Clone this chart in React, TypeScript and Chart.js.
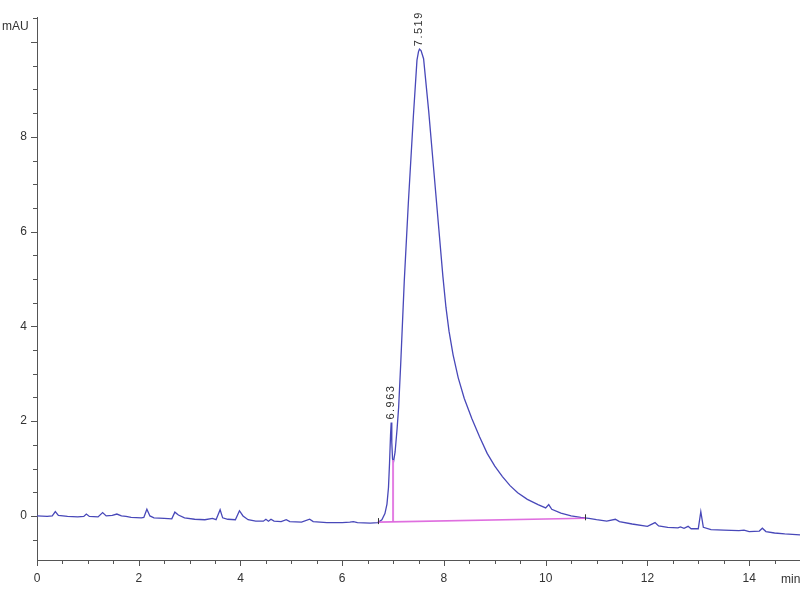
import React, { useEffect, useRef } from "react";
import { Chart, registerables } from "chart.js";

Chart.register(...registerables);

// Retention time (min) and signal (mAU)
const times = [
  0.0, 0.2, 0.3, 0.36, 0.42, 0.6, 0.8, 0.92, 0.97, 1.03, 1.2, 1.29, 1.36, 1.48, 1.57, 1.66, 1.75, 1.85,
  2.05, 2.1, 2.16, 2.22, 2.3, 2.5, 2.65, 2.71, 2.78, 2.9, 3.1, 3.3, 3.45, 3.52, 3.6, 3.65, 3.75, 3.9,
  3.98, 4.05, 4.15, 4.3, 4.45, 4.5, 4.55, 4.6, 4.66, 4.8, 4.9, 4.97, 5.2, 5.36, 5.43, 5.7, 6.0, 6.15,
  6.22, 6.3, 6.55, 6.7, 6.78, 6.84, 6.88, 6.91, 6.93, 6.95, 6.963, 6.975, 6.99, 7.01, 7.04, 7.08, 7.11,
  7.15, 7.22, 7.3, 7.4, 7.47, 7.5, 7.519, 7.55, 7.6, 7.7, 7.8, 7.9, 7.98, 8.04, 8.1, 8.18, 8.28, 8.4,
  8.55, 8.7, 8.85, 9.0, 9.15, 9.3, 9.45, 9.64, 9.85, 10.0, 10.06, 10.12, 10.3, 10.5, 10.69, 10.85,
  11.0, 11.2, 11.37, 11.45, 11.7, 12.0, 12.15, 12.22, 12.4, 12.6, 12.65, 12.72, 12.8, 12.86, 13.0,
  13.05, 13.1, 13.25, 13.5, 13.8, 13.9, 14.0, 14.2, 14.26, 14.33, 14.5, 14.7, 15.0,
];
const signal = [
  0.0, -0.01, 0.0, 0.09, 0.01, -0.01, -0.02, -0.01, 0.04, -0.01, -0.02, 0.07, 0.0, 0.01, 0.04, 0.0, -0.01, -0.03,
  -0.04, -0.03, 0.14, 0.0, -0.04, -0.05, -0.06, 0.08, 0.02, -0.04, -0.07, -0.08, -0.05, -0.08, 0.13, -0.04, -0.07, -0.08,
  0.11, 0.0, -0.08, -0.11, -0.11, -0.07, -0.11, -0.07, -0.11, -0.12, -0.08, -0.12, -0.13, -0.07, -0.12, -0.14, -0.14, -0.13,
  -0.12, -0.14, -0.15, -0.14, -0.08, 0.05, 0.25, 0.6, 1.1, 1.7, 1.97, 1.55, 1.2, 1.15, 1.35, 1.85, 2.3,
  3.2, 4.95, 6.6, 8.45, 9.62, 9.8, 9.85, 9.82, 9.65, 8.55, 7.3, 6.05, 5.05, 4.4, 3.9, 3.4, 2.92, 2.48,
  2.05, 1.67, 1.32, 1.05, 0.83, 0.64, 0.49, 0.35, 0.24, 0.17, 0.24, 0.14, 0.06, 0.0, -0.03, -0.05,
  -0.08, -0.11, -0.07, -0.12, -0.17, -0.22, -0.14, -0.21, -0.24, -0.25, -0.23, -0.26, -0.22, -0.27, -0.27,
  0.09, -0.24, -0.29, -0.3, -0.31, -0.3, -0.33, -0.32, -0.26, -0.33, -0.36, -0.38, -0.4,
];

// Integration baseline and drop line
const baselineTimes = [6.7, 10.78];
const baselineValues = [-0.13, -0.05];
const dropTimes = [7.0, 7.0];
const dropValues = [1.18, -0.12];

// Peak annotations
const peakTimes = [6.963, 7.519];
const peakHeights = [1.97, 9.85];
const peakLabels = ["6.963", "7.519"];

// Axes
const xMin = 0;
const xMax = 15;
const yMin = -0.93;
const yMax = 10.53;
const xTickLabels = [0, 2, 4, 6, 8, 10, 12, 14];
const yTickLabels = [0, 2, 4, 6, 8];
const yUnit = "mAU";
const xUnit = "min";

const FONT = "'Liberation Sans', Arial, sans-serif";

const isMajor = (v: number) => Math.abs(v / 2 - Math.round(v / 2)) < 1e-6;
const labelFor = (list: number[]) => (v: any) => {
  const n = Number(v);
  const hit = list.find((l) => Math.abs(l - n) < 1e-6);
  return hit === undefined ? "" : String(hit);
};

const decorPlugin = {
  id: "decor",
  afterDraw(chart: any) {
    const { ctx, chartArea, scales } = chart;
    const xs = scales.x;
    const ys = scales.y;
    ctx.save();
    ctx.strokeStyle = "#555";
    ctx.lineWidth = 1;
    xs.ticks.forEach((t: any) => {
      const px = Math.round(xs.getPixelForValue(t.value)) + 0.5;
      const len = isMajor(t.value) ? 6 : 4;
      ctx.beginPath();
      ctx.moveTo(px, chartArea.bottom);
      ctx.lineTo(px, chartArea.bottom + len);
      ctx.stroke();
    });
    ys.ticks.forEach((t: any) => {
      const py = Math.round(ys.getPixelForValue(t.value)) + 0.5;
      const len = isMajor(t.value) ? 6 : 4;
      ctx.beginPath();
      ctx.moveTo(chartArea.left, py);
      ctx.lineTo(chartArea.left - len, py);
      ctx.stroke();
    });

    // baseline start / end marks
    ctx.strokeStyle = "#333";
    for (let i = 0; i < baselineTimes.length; i++) {
      const px = Math.round(xs.getPixelForValue(baselineTimes[i])) + 0.5;
      const py = ys.getPixelForValue(baselineValues[i]);
      ctx.beginPath();
      ctx.moveTo(px, py - 4);
      ctx.lineTo(px, py + 2);
      ctx.stroke();
    }

    ctx.fillStyle = "#333";
    ctx.font = `12px ${FONT}`;
    ctx.textBaseline = "middle";
    ctx.textAlign = "left";
    ctx.fillText(yUnit, 2, 27);
    ctx.fillText(xUnit, 781, 580);

    ctx.font = `11px ${FONT}`;
    (ctx as any).letterSpacing = "1.5px";
    for (let i = 0; i < peakTimes.length; i++) {
      const px = xs.getPixelForValue(peakTimes[i]);
      const py = ys.getPixelForValue(peakHeights[i]);
      ctx.save();
      ctx.translate(px, py - 3);
      ctx.rotate(-Math.PI / 2);
      ctx.textAlign = "left";
      ctx.textBaseline = "middle";
      ctx.fillText(peakLabels[i], 0, 0);
      ctx.restore();
    }
    ctx.restore();
  },
};

export default function App() {
  const ref = useRef<HTMLCanvasElement | null>(null);

  useEffect(() => {
    if (!ref.current) return;
    const trace = times.map((t, i) => ({ x: t, y: signal[i] }));
    const base = baselineTimes.map((t, i) => ({ x: t, y: baselineValues[i] }));
    const drop = dropTimes.map((t, i) => ({ x: t, y: dropValues[i] }));

    const chart = new Chart(ref.current, {
      type: "line",
      data: {
        datasets: [
          {
            data: base,
            borderColor: "rgba(220,95,220,0.9)",
            borderWidth: 1.6,
            pointRadius: 0,
            tension: 0,
          },
          {
            data: drop,
            borderColor: "rgba(225,120,225,0.95)",
            borderWidth: 2,
            pointRadius: 0,
            tension: 0,
          },
          {
            data: trace,
            borderColor: "rgb(72,72,185)",
            borderWidth: 1.3,
            pointRadius: 0,
            tension: 0,
          },
        ],
      },
      options: {
        animation: false,
        responsive: false,
        devicePixelRatio: 1,
        events: [],
        layout: { padding: { top: 17, right: 0, bottom: 0, left: 0 } },
        plugins: {
          legend: { display: false },
          tooltip: { enabled: false },
          title: { display: false },
        },
        scales: {
          x: {
            type: "linear",
            min: xMin,
            max: xMax,
            afterFit: (s: any) => {
              s.height = 40;
              s.paddingLeft = 0;
              s.paddingRight = 0;
            },
            grid: {
              display: true,
              drawOnChartArea: false,
              drawTicks: true,
              tickLength: 6,
              tickColor: "rgba(0,0,0,0)",
            },
            border: { display: true, color: "#555", width: 1 },
            ticks: {
              stepSize: 0.5,
              autoSkip: false,
              includeBounds: false,
              maxRotation: 0,
              padding: 5,
              color: "#333",
              font: { family: FONT, size: 12 },
              callback: labelFor(xTickLabels),
            },
          },
          y: {
            type: "linear",
            min: yMin,
            max: yMax,
            afterFit: (s: any) => {
              s.width = 37;
              s.paddingTop = 0;
              s.paddingBottom = 0;
            },
            grid: {
              display: true,
              drawOnChartArea: false,
              drawTicks: true,
              tickLength: 6,
              tickColor: "rgba(0,0,0,0)",
            },
            border: { display: true, color: "#555", width: 1 },
            ticks: {
              stepSize: 0.5,
              autoSkip: false,
              includeBounds: false,
              padding: 4,
              color: "#333",
              font: { family: FONT, size: 12 },
              callback: labelFor(yTickLabels),
            },
          },
        },
      },
      plugins: [decorPlugin],
    });
    return () => chart.destroy();
  }, []);

  return (
    <div style={{ position: "fixed", left: 0, top: 0, width: 800, height: 600, background: "#fff" }}>
      <canvas ref={ref} width={800} height={600} style={{ width: 800, height: 600 }} />
    </div>
  );
}
